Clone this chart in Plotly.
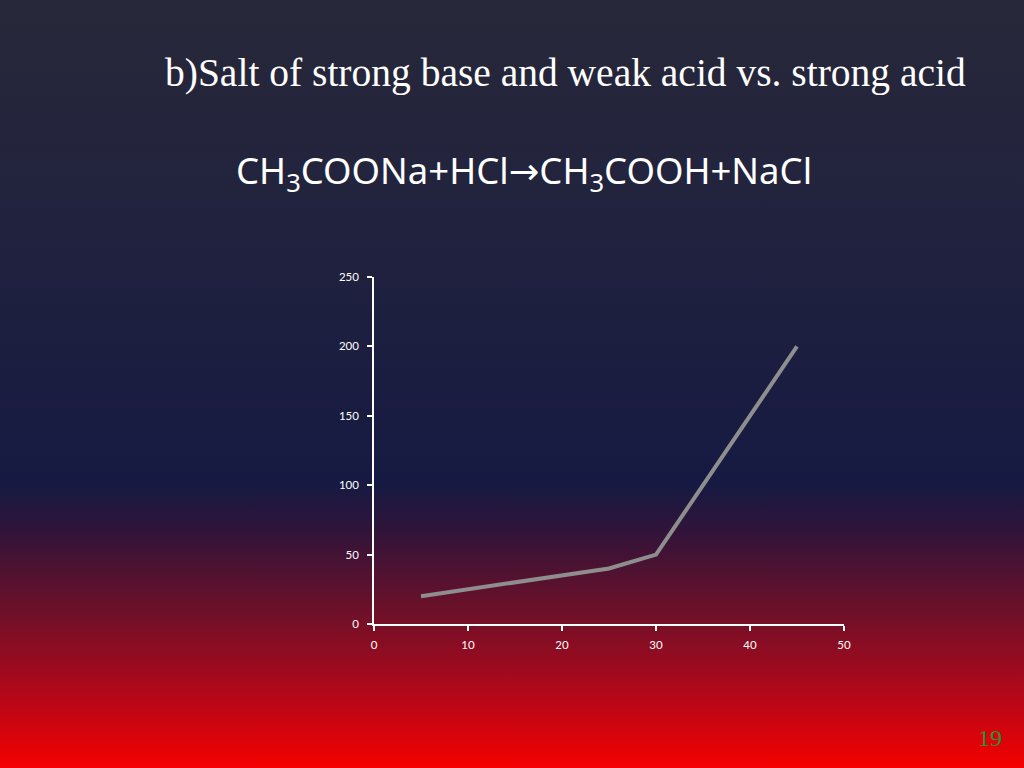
import base64
import plotly.graph_objects as go

# titration-ish curve
volume = [5, 10, 15, 20, 25, 30, 35, 40, 45]
reading = [20, 25, 30, 35, 40, 50, 100, 150, 200]

x_ticks = [0, 10, 20, 30, 40, 50]
y_ticks = [0, 50, 100, 150, 200, 250]

title_text = "b)Salt of strong base and weak acid vs. strong acid"
equation_text = ("CH<sub>3</sub>COONa+HCl"
                 "<span style='font-family:DejaVu Sans'>\u2192</span>"
                 "CH<sub>3</sub>COOH+NaCl")
slide_number = "19"

W, H = 1024, 768
left, right, top, bottom = 374, 844, 277, 624
pw, ph = right - left, bottom - top

# slide background: vertical gradient as an inline svg
grad_stops = [
    ("0%", "#272839"),
    ("30%", "#21223e"),
    ("63%", "#161a42"),
    ("69%", "#30143a"),
    ("80%", "#701028"),
    ("90%", "#b0081a"),
    ("100%", "#f50000"),
]
stop_tags = "".join(f'<stop offset="{o}" stop-color="{c}"/>' for o, c in grad_stops)
svg = (
    f'<svg xmlns="http://www.w3.org/2000/svg" width="{W}" height="{H}" preserveAspectRatio="none">'
    f'<defs><linearGradient id="g" x1="0" y1="0" x2="0" y2="1">{stop_tags}</linearGradient></defs>'
    f'<rect width="{W}" height="{H}" fill="url(#g)"/></svg>'
)
bg_src = "data:image/svg+xml;base64," + base64.b64encode(svg.encode()).decode()

fig = go.Figure(go.Scatter(
    x=volume, y=reading, mode="lines",
    line=dict(color="#8e8e8e", width=4),
    hoverinfo="skip",
))

axis_style = dict(
    showgrid=False, zeroline=False, showline=True, linecolor="white", linewidth=1.5,
    ticks="outside", ticklen=5, tickcolor="white", tickwidth=1.5,
    tickfont=dict(family="Lato, Noto Sans, sans-serif", size=11.5, color="white"),
)


def px_x(px):
    return (px - left) / pw


def px_y(py):
    return (bottom - py) / ph


fig.update_layout(
    width=W, height=H,
    margin=dict(l=left, r=W - right, t=top, b=H - bottom),
    paper_bgcolor="#1c1e3e", plot_bgcolor="rgba(0,0,0,0)",
    showlegend=False,
    images=[dict(
        source=bg_src, xref="paper", yref="paper",
        x=px_x(0), y=px_y(0), sizex=W / pw, sizey=H / ph,
        xanchor="left", yanchor="top", sizing="stretch", layer="below",
    )],
    xaxis=dict(range=[0, 50], tickvals=x_ticks, ticklabelstandoff=4, **axis_style),
    yaxis=dict(range=[0, 250], tickvals=y_ticks, ticklabelstandoff=6, **axis_style),
    annotations=[
        dict(text=title_text, xref="paper", yref="paper",
             x=px_x(163), y=px_y(73), xanchor="left", yanchor="middle", showarrow=False,
             font=dict(family="Liberation Serif, Times New Roman, serif", size=39.5, color="white")),
        dict(text=equation_text, xref="paper", yref="paper",
             x=px_x(234), y=px_y(172), xanchor="left", yanchor="middle", showarrow=False,
             font=dict(family="Noto Sans, sans-serif", size=36.5, color="white")),
        dict(text=slide_number, xref="paper", yref="paper",
             x=px_x(990), y=px_y(738), xanchor="center", yanchor="middle", showarrow=False,
             font=dict(family="Liberation Serif, Times New Roman, serif", size=24, color="#2f8f3a")),
    ],
)

fig.write_html("out.html", config={"displayModeBar": False},
               post_script="document.body.style.margin='0';")
